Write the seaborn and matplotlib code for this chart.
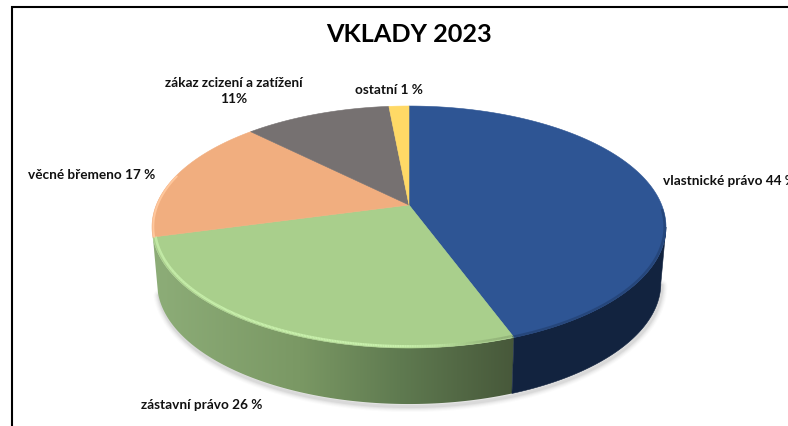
import numpy as np
import seaborn as sns
import matplotlib
matplotlib.use("Agg")
import matplotlib.pyplot as plt
from matplotlib.collections import LineCollection
from matplotlib.colors import to_rgb
from matplotlib.patches import Polygon

# data (clockwise from 12 o'clock)
categories = ["vlastnické právo", "zástavní právo", "věcné břemeno", "zákaz zcizení a zatížení", "ostatní"]
shares = [44.4, 26.4, 16.7, 11.0, 1.5]
label_texts = ["vlastnické právo 44 %", "zástavní právo 26 %", "věcné břemeno 17 %",
               "zákaz zcizení a zatížení\n11%", "ostatní 1 %"]
top_colors = ["#2e5594", "#a9cf8c", "#f1ae7f", "#767171", "#ffd966"]
title_text = "VKLADY 2023"

sns.set_theme(style="white")
plt.rcParams["font.family"] = ["Lato", "DejaVu Sans"]
palette = sns.color_palette(top_colors)

fig = plt.figure(figsize=(7.88, 4.26), dpi=100, facecolor="white")
ax = fig.add_axes([0, 0, 1, 1])
ax.axis("off")

# perspective disc
CX, CY, A, B, K = 409.0, 205.0, 252.7, 117.0, 0.182
DEPTH, BOTTOM_X = 56.0, 0.98


def top_xy(deg, r=1.0):
    t = np.radians(deg)
    d = 1 + K * np.sin(t) * r
    return CX + r * A * np.cos(t) / d, CY - r * B * np.sin(t) / d


def bottom_xy(deg):
    x, y = top_xy(deg)
    return CX + (x - CX) * BOTTOM_X, y + DEPTH


def wall_outline(a0, a1):
    arc = np.linspace(a0, a1, 200)
    tx, ty = top_xy(arc)
    bx, by = bottom_xy(arc)
    return np.c_[np.r_[tx, bx[::-1]], np.r_[ty, by[::-1]]]


# slice edges in degrees (math convention, clockwise from the top)
edges = 90 - 360 * np.cumsum([0] + shares) / np.sum(shares)
green_left = edges[2] + 360      # front-left end of the green slice
blue_start = edges[1] + 360      # front boundary green / blue
right_extreme = 360 - np.degrees(np.arcsin(K))

# soft ground shadow
sh = np.linspace(green_left, right_extreme, 240)
sx, sy = bottom_xy(sh)
for lw, alpha in [(8, .025), (6.5, .035), (5, .045), (3.6, .06), (2.2, .08)]:
    ax.plot(sx + 1, sy + 2.5, color="#555555", lw=lw, alpha=alpha, solid_capstyle="round", zorder=1)

# side wall: green with a horizontal gradient, blue flat
green_stops_x = [152, 300, 400, 514]
green_stops_c = np.array([to_rgb(c) for c in ["#8dad78", "#7a9864", "#5f7a50", "#47583a"]])
grad_x = np.arange(150, 520)
grad = np.stack([np.interp(grad_x, green_stops_x, green_stops_c[:, i]) for i in range(3)], axis=-1)[None, :, :]
img = ax.imshow(grad, extent=(150, 520, 420, 220), aspect="auto", interpolation="bilinear", zorder=2)
clip = Polygon(wall_outline(green_left, blue_start), closed=True, transform=ax.transData,
               fc="none", ec="none")
ax.add_patch(clip)
img.set_clip_path(clip)
ax.add_patch(Polygon(wall_outline(blue_start, right_extreme), closed=True, fc="#12233f", ec="#12233f",
                     lw=0.4, zorder=2))

# top face
for i, color in enumerate(palette):
    arc = np.linspace(edges[i], edges[i + 1], 160)
    x, y = top_xy(arc)
    ax.fill(np.r_[CX, x], np.r_[CY, y], color=color, lw=0.4, zorder=3)

# bevel on the rim of the green slice
rim = np.linspace(green_left, blue_start, 300)
rx, ry = top_xy(rim, 0.99)
segs = np.stack([np.c_[rx[:-1], ry[:-1]], np.c_[rx[1:], ry[1:]]], axis=1)
fade = np.clip((490 - rx[:-1]) / 90, 0, 1)
rgba = np.c_[np.tile(to_rgb("#c8f0ac"), (len(fade), 1)), fade]
ax.add_collection(LineCollection(segs, colors=rgba, linewidths=1.8, zorder=4))
dark = np.clip((rx[:-1] - 440) / 60, 0, 1) * .5
ax.add_collection(LineCollection(segs, colors=np.c_[np.tile(to_rgb("#7f9a68"), (len(dark), 1)), dark],
                                 linewidths=1.6, zorder=4))

# soft edge of the blue rim
blue_arc = np.linspace(blue_start, right_extreme + 8, 200)
bx, by = top_xy(blue_arc, 0.995)
ax.plot(bx, by, color="#1f3a68", lw=1.8, alpha=.55, zorder=4)
# orange rim tint
orange_arc = np.linspace(green_left, green_left - 30, 60)
ox, oy = top_xy(orange_arc, 0.995)
ax.plot(ox, oy, color="#ffc79c", lw=1.4, zorder=4)

# chart frame (left and top only, the crop cuts the rest)
ax.plot([12.5, 12.5, 788], [426, 6.5, 6.5], color="black", lw=1.5, zorder=5, solid_joinstyle="miter")

# texts
TXT = "#111111"
FS = 9.8
ax.text(409, 34, title_text, ha="center", va="center", fontsize=18.2, fontweight="bold", color="black")
ax.text(663, 181, label_texts[0], ha="left", va="center", fontsize=FS, fontweight="bold", color=TXT)
ax.text(201.5, 405, label_texts[1], ha="center", va="center", fontsize=FS, fontweight="bold", color=TXT)
ax.text(92, 175, label_texts[2], ha="center", va="center", fontsize=FS, fontweight="bold", color=TXT)
ax.text(234, 91, label_texts[3], ha="center", va="center", fontsize=FS, fontweight="bold", color=TXT,
        linespacing=1.4)
ax.text(389, 90, label_texts[4], ha="center", va="center", fontsize=FS, fontweight="bold", color=TXT)

ax.set_xlim(0, 788)
ax.set_ylim(426, 0)
fig.savefig("out.png", dpi=100, facecolor="white")
